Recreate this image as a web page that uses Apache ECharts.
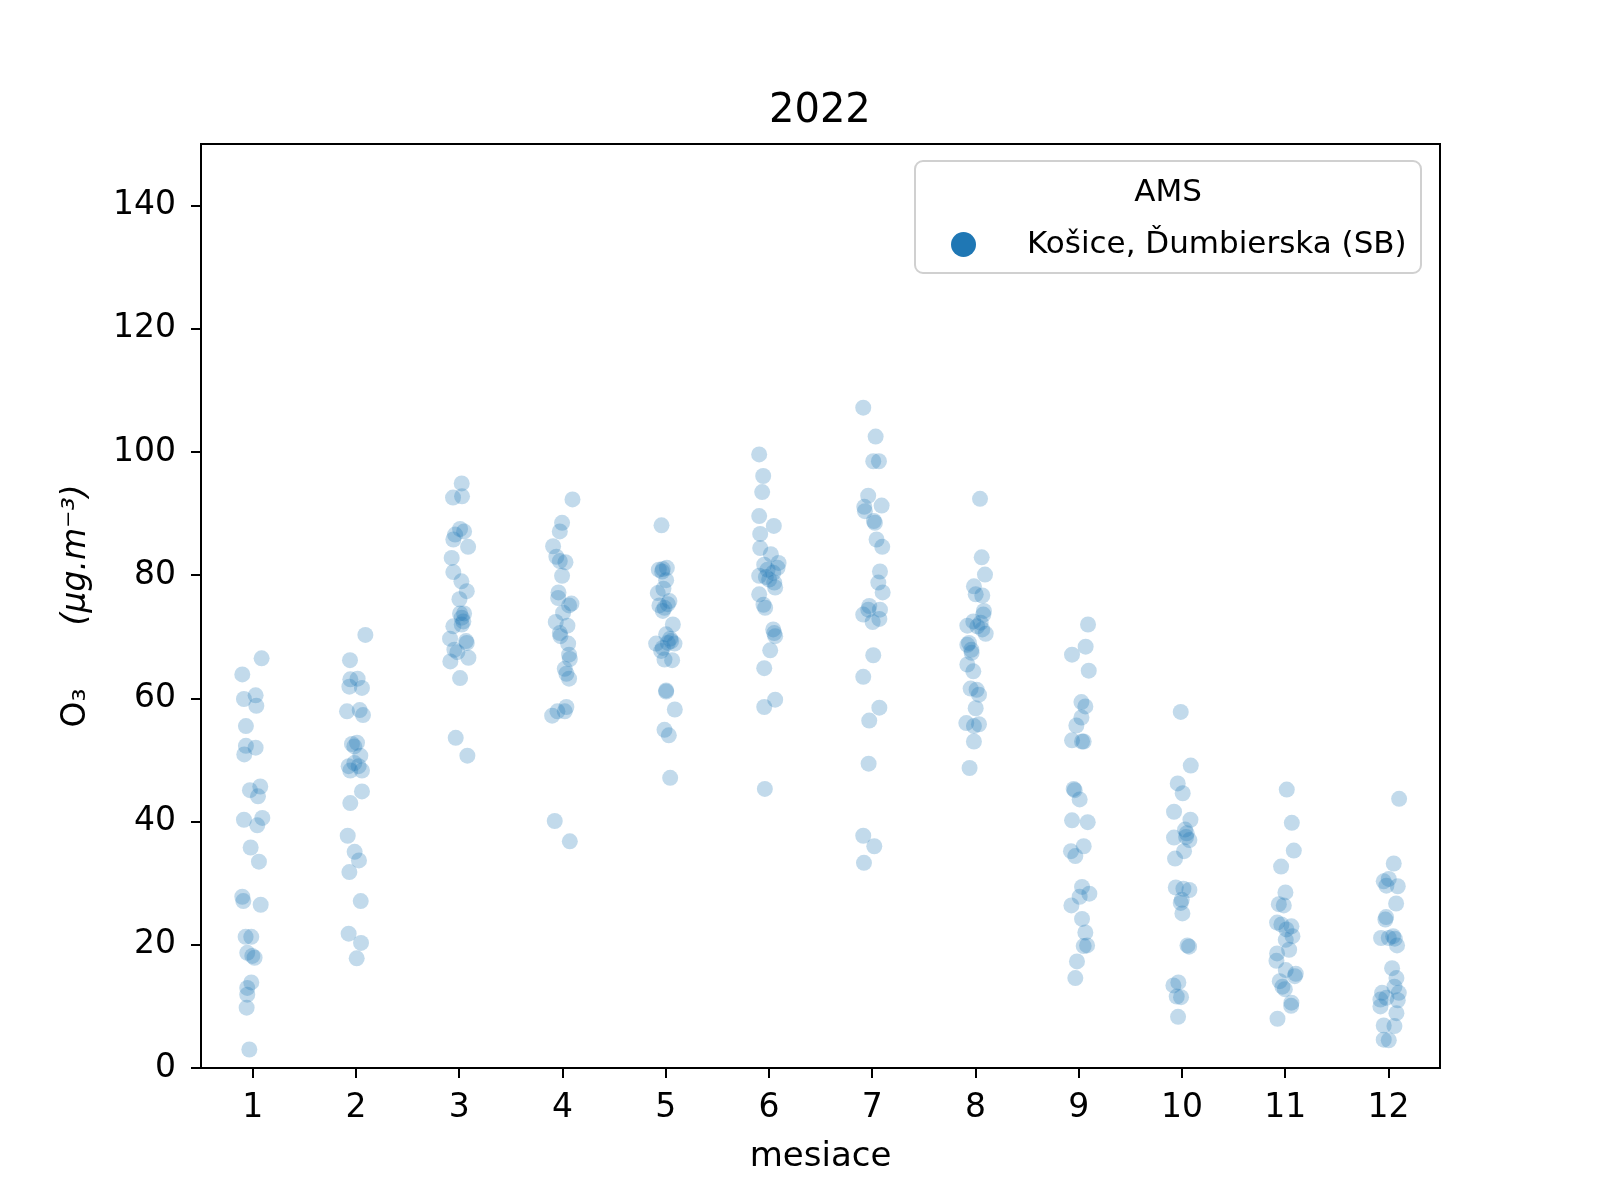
<!DOCTYPE html>
<html>
<head>
<meta charset="utf-8">
<script src="https://cdn.jsdelivr.net/npm/echarts@6/dist/echarts.min.js"></script>
<style>html,body{margin:0;padding:0;background:#fff}#c{width:1600px;height:1200px}</style>
</head>
<body>
<div id="c"></div>
<script>
const months = ['1','2','3','4','5','6','7','8','9','10','11','12'];
const seriesName = 'Košice, Ďumbierska (SB)';
const yTicks = [0,20,40,60,80,100,120,140];

const o3_m01 = [66.5,63.9,59.9,60.5,58.8,55.5,52.3,52.0,50.9,45.7,45.1,44.1,40.3,40.6,39.4,35.8,33.5,27.8,27.1,26.5,21.3,21.3,18.7,18.2,17.9,13.9,13.0,11.9,9.8,3.0];
const jit_m01 = [0.087,-0.100,-0.084,0.029,0.036,-0.065,-0.065,0.029,-0.081,0.074,-0.026,0.052,-0.084,0.094,0.045,-0.019,0.061,-0.100,-0.090,0.078,-0.068,-0.013,-0.052,-0.003,0.019,-0.013,-0.052,-0.052,-0.058,-0.032];
const o3_m02 = [70.3,66.2,63.1,63.2,61.9,61.7,57.9,58.1,57.3,52.8,52.6,52.2,50.7,49.0,48.3,49.0,48.3,49.5,44.9,43.0,37.7,35.1,33.7,31.8,27.1,21.8,20.3,17.8];
const jit_m02 = [0.092,-0.057,-0.054,0.017,-0.063,0.059,-0.086,0.037,0.069,0.011,-0.038,-0.015,0.043,-0.070,-0.054,0.027,0.059,-0.015,0.059,-0.054,-0.079,-0.012,0.030,-0.063,0.047,-0.070,0.050,0.008];
const o3_m03 = [94.9,92.6,92.8,87.5,87.1,86.6,85.8,84.6,82.8,80.5,79.0,77.4,76.1,73.8,73.8,73.1,72.5,72.0,71.7,69.7,69.3,69.0,67.9,67.5,66.6,66.0,63.3,53.6,50.7];
const jit_m03 = [0.025,-0.059,0.028,0.009,0.048,-0.039,-0.056,0.087,-0.072,-0.056,0.022,0.074,0.003,0.009,0.048,0.025,0.041,0.025,-0.056,-0.088,0.067,0.074,-0.046,-0.017,0.090,-0.085,0.009,-0.033,0.080];
const o3_m04 = [92.3,88.5,87.1,84.7,83.0,82.3,82.1,79.9,77.2,76.3,75.4,75.1,73.9,72.4,71.8,70.6,70.1,68.9,67.1,66.4,64.8,64.0,63.2,58.6,57.9,57.9,57.2,40.1,36.8];
const jit_m04 = [0.098,-0.003,-0.025,-0.090,-0.058,-0.025,0.030,-0.003,-0.038,-0.041,0.088,0.065,0.007,-0.064,0.049,-0.025,-0.019,0.056,0.065,0.072,0.023,0.039,0.065,0.039,-0.048,0.023,-0.099,-0.074,0.072];
const o3_m05 = [88.1,80.9,81.2,80.6,79.2,77.8,77.1,75.8,75.1,74.7,74.2,72.0,70.4,69.7,68.9,68.9,69.3,67.7,66.3,66.2,61.3,61.1,58.2,54.9,54.0,47.1,81.0,75.3,69.0,68.2];
const jit_m05 = [-0.040,-0.066,0.012,-0.034,0.005,-0.021,-0.076,0.037,-0.060,-0.011,-0.027,0.070,0.005,0.044,-0.092,0.086,0.054,-0.043,-0.011,0.063,0.005,0.005,0.089,-0.011,0.031,0.044,-0.027,0.021,0.021,-0.027];
const o3_m06 = [99.6,96.1,93.5,89.6,88.0,86.7,84.4,83.4,82.0,81.2,81.7,80.9,80.4,79.9,79.7,79.3,78.8,78.0,76.9,75.2,74.7,71.2,70.6,70.1,67.8,64.9,59.8,58.6,45.3];
const jit_m06 = [-0.094,-0.055,-0.065,-0.094,0.048,-0.084,-0.084,0.019,0.094,0.084,-0.045,-0.013,0.042,-0.094,-0.029,0.003,0.052,0.061,-0.094,-0.052,-0.036,0.042,0.052,0.061,0.013,-0.045,0.061,-0.045,-0.039];
const o3_m07 = [107.2,102.5,98.5,98.5,92.9,91.3,91.1,90.4,88.8,88.5,85.8,84.6,80.6,78.8,77.2,75.0,74.4,74.4,73.6,72.9,72.4,67.0,63.5,58.5,56.4,49.4,37.7,36.0,33.3];
const jit_m07 = [-0.086,0.034,0.011,0.066,-0.038,0.092,-0.076,-0.070,0.017,0.027,0.043,0.098,0.076,0.060,0.102,-0.028,-0.037,0.076,-0.086,0.070,0.005,0.011,-0.086,0.070,-0.028,-0.034,-0.086,0.021,-0.079];
const o3_m08 = [92.4,82.9,80.1,78.2,76.9,76.7,74.2,73.6,71.8,72.5,71.7,72.3,70.5,71.2,69.0,68.7,67.9,67.4,65.5,64.4,61.6,61.4,60.6,58.4,56.0,55.5,55.8,53.0,48.7];
const jit_m08 = [0.045,0.061,0.093,-0.014,0.003,0.067,0.083,0.077,-0.078,-0.020,0.019,0.051,0.100,0.067,-0.062,-0.078,-0.039,-0.036,-0.078,-0.020,-0.046,0.012,0.035,0.003,-0.088,-0.014,0.035,-0.014,-0.056];
const o3_m09 = [72.0,68.4,67.1,64.5,59.4,58.7,56.9,55.6,53.2,53.0,53.0,45.3,45.1,43.6,40.2,39.9,36.0,35.2,34.4,29.4,28.3,27.8,26.4,24.2,22.0,19.8,19.9,17.3,14.6];
const jit_m09 = [0.091,0.068,-0.064,0.098,0.027,0.065,0.027,-0.022,-0.064,0.033,0.049,-0.048,-0.038,0.010,-0.064,0.088,0.049,-0.074,-0.032,0.033,0.104,0.010,-0.070,0.033,0.065,0.049,0.082,-0.016,-0.032];
const o3_m10 = [57.8,49.1,46.2,44.6,41.6,40.3,38.7,38.1,37.4,37.0,37.5,35.2,34.0,29.3,29.1,28.9,27.3,26.8,25.1,19.9,19.7,13.9,13.4,11.6,11.5,8.3];
const jit_m10 = [-0.011,0.086,-0.040,0.008,-0.076,0.083,0.031,0.047,-0.076,0.073,0.041,0.021,-0.066,-0.059,0.015,0.073,-0.001,-0.011,0.005,0.054,0.070,-0.034,-0.082,-0.050,-0.008,-0.037];
const o3_m11 = [45.2,39.8,35.3,32.7,28.5,26.6,26.4,23.6,23.3,23.0,22.5,21.4,20.8,19.2,18.6,17.4,15.9,15.3,14.9,14.1,13.2,12.8,10.6,10.1,8.0];
const jit_m11 = [0.016,0.065,0.084,-0.039,0.003,-0.061,-0.013,-0.078,-0.036,0.061,0.013,0.071,0.006,0.039,-0.078,-0.084,0.006,0.103,0.094,-0.052,-0.026,-0.003,0.061,0.058,-0.074];
const o3_m12 = [43.7,33.2,30.7,30.3,29.6,29.5,26.7,24.5,24.1,21.1,21.1,21.4,21.0,19.9,16.2,14.6,13.2,12.2,12.2,11.1,11.4,11.0,10.0,8.9,6.9,6.8,4.6,4.5];
const jit_m12 = [0.104,0.052,0.004,-0.045,-0.019,0.091,0.075,-0.022,-0.029,-0.071,0.004,0.046,0.062,0.084,0.036,0.078,0.059,0.101,-0.061,-0.077,-0.019,0.091,-0.077,0.078,-0.045,0.059,-0.045,0.004];

const values = [o3_m01,o3_m02,o3_m03,o3_m04,o3_m05,o3_m06,o3_m07,o3_m08,o3_m09,o3_m10,o3_m11,o3_m12];
const jitters = [jit_m01,jit_m02,jit_m03,jit_m04,jit_m05,jit_m06,jit_m07,jit_m08,jit_m09,jit_m10,jit_m11,jit_m12];
const points = [];
values.forEach((arr, i) => arr.forEach((v, j) => points.push([i + jitters[i][j], v])));

const FONT = 'DejaVu Sans';
const chart = echarts.init(document.getElementById('c'), null, {renderer: 'canvas'});
chart.setOption({
  backgroundColor: '#fff',
  animation: false,
  textStyle: {fontFamily: FONT, color: '#000'},
  title: {
    text: '2022', left: 769, top: 92, padding: 0,
    textStyle: {fontFamily: FONT, fontSize: 40, fontWeight: 'normal', color: '#000'}
  },
  grid: {left: 201, right: 160, top: 144, bottom: 132, show: true, borderColor: '#000', borderWidth: 2, backgroundColor: 'transparent'},
  xAxis: [{
    type: 'category', data: months, boundaryGap: true, position: 'bottom',
    axisLine: {show: true, onZero: false, lineStyle: {color: '#000', width: 2}},
    axisTick: {show: true, alignWithLabel: true, length: 10, lineStyle: {color: '#000', width: 2}},
    axisLabel: {fontFamily: FONT, fontSize: 33, color: '#000', margin: 24},
    splitLine: {show: false},
    name: 'mesiace', nameLocation: 'middle', nameGap: 72,
    nameTextStyle: {fontFamily: FONT, fontSize: 34, color: '#000'}
  }, {
    type: 'value', min: -0.5, max: 11.5, show: false
  }],
  yAxis: {
    type: 'value', min: 0, max: 150, interval: 10,
    axisLine: {show: true, onZero: false, lineStyle: {color: '#000', width: 2}},
    axisTick: {show: true, customValues: yTicks, length: 10, lineStyle: {color: '#000', width: 2}},
    axisLabel: {customValues: yTicks, fontFamily: FONT, fontSize: 33, color: '#000', margin: 25, padding: [6, 0, 0, 0]},
    splitLine: {show: false},
    name: '{o|O₃}      {i|(μg.m⁻³)}', nameLocation: 'middle', nameRotate: 90, nameGap: 108,
    nameTextStyle: {
      fontFamily: FONT, fontSize: 33, color: '#000',
      rich: {
        o: {fontFamily: FONT, fontSize: 33, color: '#000'},
        i: {fontFamily: FONT, fontSize: 33, fontStyle: 'italic', color: '#000'}
      }
    }
  },
  legend: {
    data: [seriesName], left: 951, top: 229, padding: 0,
    icon: 'circle', itemWidth: 25, itemHeight: 25,
    itemStyle: {opacity: 1, color: '#1f77b4'},
    textStyle: {fontFamily: FONT, fontSize: 31, color: '#000', padding: [0, 0, 0, 46]},
    z: 10
  },
  graphic: [
    {type: 'rect', z: 5, shape: {x: 915, y: 161, width: 506, height: 112, r: 8},
     style: {fill: 'rgba(255,255,255,0.8)', stroke: '#d0d0d0', lineWidth: 2}},
    {type: 'text', z: 6, x: 1168, y: 193,
     style: {text: 'AMS', font: '31px "DejaVu Sans"', fill: '#000', textAlign: 'center', textVerticalAlign: 'middle'}}
  ],
  series: [{
    name: seriesName, type: 'scatter', xAxisIndex: 1, yAxisIndex: 0,
    data: points, symbol: 'circle', symbolSize: 16,
    itemStyle: {color: '#1f77b4', opacity: 0.27, borderWidth: 0}
  }]
});
</script>
</body>
</html>
